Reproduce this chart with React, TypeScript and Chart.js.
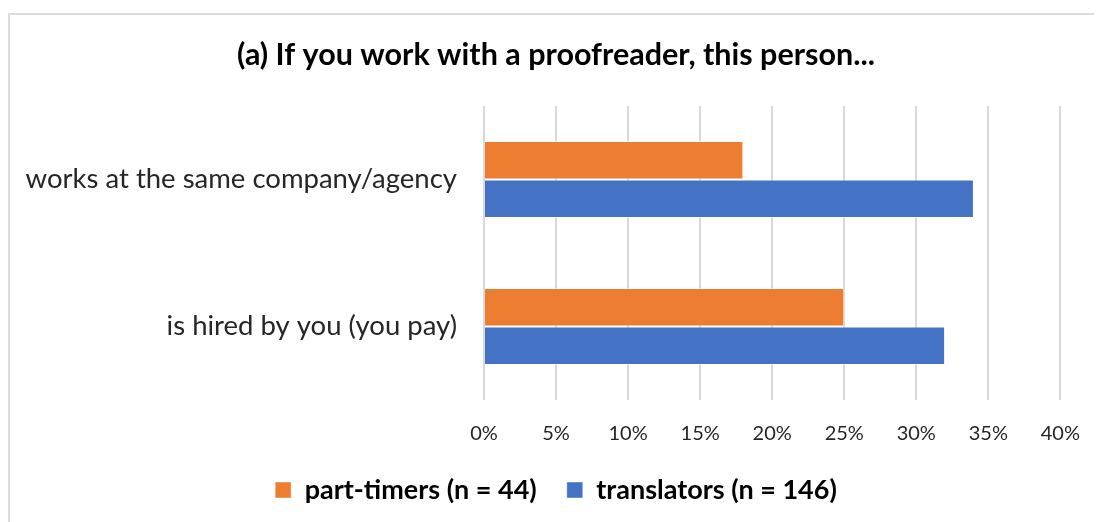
import React, { useEffect, useRef } from "react";
import { Chart, registerables } from "chart.js";

Chart.register(...registerables);

const categories = ["works at the same company/agency", "is hired by you (you pay)"];
const partTimers = [18, 25];
const translators = [34, 32];
const seriesLabels = ["part-timers (n = 44)", "translators (n = 146)"];
const titleText = "(a) If you work with a proofreader, this person...";

const FONT = "Lato, 'Noto Sans', sans-serif";

export default function App() {
  const ref = useRef<HTMLCanvasElement | null>(null);

  useEffect(() => {
    if (!ref.current) return;
    const chart = new Chart(ref.current, {
      type: "bar",
      data: {
        labels: categories,
        datasets: [
          {
            label: seriesLabels[0],
            data: partTimers,
            backgroundColor: "#ED7D31",
            borderColor: "rgba(255,255,255,0.45)",
            borderWidth: 1,
            categoryPercentage: 0.524,
            barPercentage: 1,
          },
          {
            label: seriesLabels[1],
            data: translators,
            backgroundColor: "#4472C4",
            borderColor: "rgba(255,255,255,0.45)",
            borderWidth: 1,
            categoryPercentage: 0.524,
            barPercentage: 1,
          },
        ],
      },
      options: {
        indexAxis: "y",
        animation: false,
        responsive: true,
        maintainAspectRatio: false,
        layout: { padding: { left: 0, right: 0, top: 0, bottom: 13.5 } },
        plugins: {
          title: {
            display: true,
            text: titleText,
            color: "#000000",
            font: { family: FONT, size: 30.5, weight: "bold" },
            padding: { top: 22, bottom: 32.4 },
          },
          legend: {
            position: "bottom",
            maxHeight: 62,
            labels: {
              boxWidth: 16,
              boxHeight: 16,
              padding: 30,
              color: "#000000",
              font: { family: FONT, size: 27, weight: "bold" },
            },
          },
          tooltip: { enabled: false },
        },
        scales: {
          x: {
            min: 0,
            max: 40,
            border: { display: false },
            grid: { color: "#d9d9d9", lineWidth: 2, drawTicks: false },
            ticks: {
              stepSize: 5,
              padding: 22,
              color: "#262626",
              font: { family: FONT, size: 20 },
              callback: (v: any) => `${v}%`,
            },
            afterFit: (s: any) => {
              s.height = 46.5;
            },
          },
          y: {
            border: { display: false },
            grid: { display: false, drawTicks: false },
            ticks: {
              padding: 27,
              color: "#262626",
              font: { family: FONT, size: 27.5 },
            },
            afterFit: (s: any) => {
              s.width = 474;
            },
          },
          spacer: {
            type: "linear",
            position: "right",
            display: true,
            border: { display: false },
            grid: { display: false, drawTicks: false },
            ticks: { display: false },
            afterFit: (s: any) => {
              s.width = 39;
            },
          },
        },
      },
    });
    return () => chart.destroy();
  }, []);

  return (
    <div
      style={{
        marginTop: 5,
        width: 1094,
        height: 509,
        boxSizing: "border-box",
        borderTop: "2px solid #dcdcdc",
        borderLeft: "2px solid #dcdcdc",
        background: "#fff",
      }}
    >
      <div style={{ position: "relative", width: 1092, height: 507 }}>
        <canvas ref={ref} />
      </div>
    </div>
  );
}
